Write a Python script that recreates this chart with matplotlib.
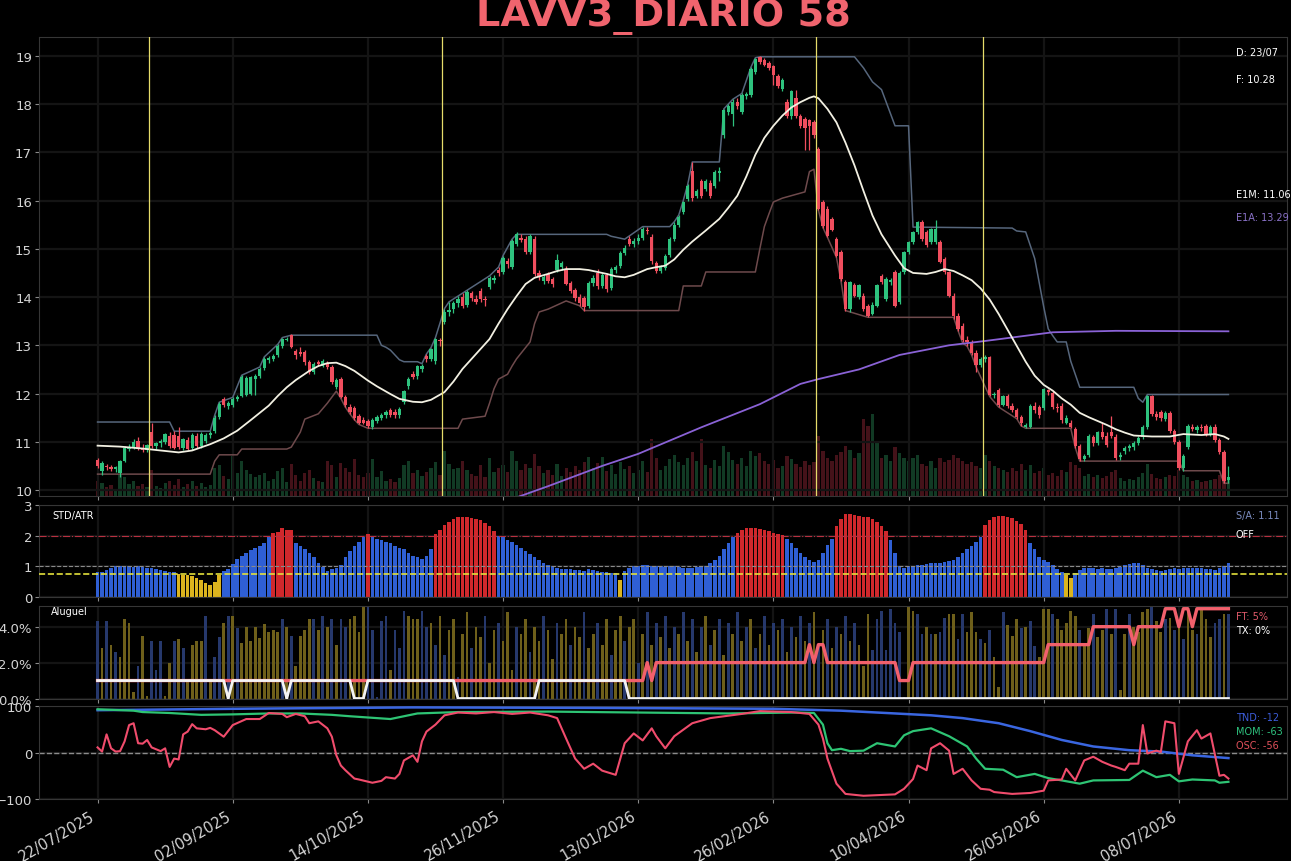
import numpy as np
import matplotlib.pyplot as plt

plt.rcParams['font.family'] = ['DejaVu Sans']

title = "LAVV3_DIARIO 58"
date_labels = ["22/07/2025", "02/09/2025", "14/10/2025", "26/11/2025", "13/01/2026",
               "26/02/2026", "10/04/2026", "26/05/2026", "08/07/2026"]
date_step = 30
last_day = "23/07"
event_days = [12, 77, 160, 197]

opens = [
    10.62, 10.40, 10.50, 10.47, 10.44, 10.36, 10.60, 10.86, 10.90, 11.02,
    10.88, 10.82, 11.20, 10.92, 10.97, 11.00, 11.12, 11.14, 11.12, 10.88,
    11.04, 10.88, 11.12, 10.92, 11.02, 11.14, 11.22, 11.52, 11.88, 11.74,
    11.76, 11.88, 11.95, 11.96, 12.00, 12.30, 12.36, 12.52, 12.70, 12.72,
    12.80, 12.98, 13.12, 13.21, 12.88, 12.86, 12.86, 12.65, 12.44, 12.66,
    12.58, 12.62, 12.55, 12.14, 12.30, 11.93, 11.73, 11.70, 11.53, 11.46,
    11.44, 11.30, 11.44, 11.50, 11.56, 11.66, 11.62, 11.55, 11.82, 12.15,
    12.40, 12.36, 12.50, 12.78, 12.72, 12.67, 13.10, 13.48, 13.70, 13.76,
    13.88, 14.00, 13.84, 14.08, 13.96, 14.12, 13.96, 14.20, 14.36, 14.56,
    14.52, 14.74, 14.62, 15.10, 15.22, 15.20, 14.94, 15.20, 14.50, 14.34,
    14.48, 14.38, 14.56, 14.62, 14.58, 14.30, 14.14, 14.00, 13.98, 13.82,
    14.30, 14.50, 14.22, 14.46, 14.18, 14.56, 14.64, 14.92, 15.20, 15.10,
    15.16, 15.22, 15.40, 15.24, 14.70, 14.55, 14.60, 14.88, 15.20, 15.50,
    15.76, 16.03, 16.62, 16.10, 16.40, 16.25, 16.36, 16.31, 16.58, 17.35,
    17.84, 17.80, 18.04, 17.83, 18.16, 18.18, 18.66, 18.98, 18.92, 18.86,
    18.78, 18.59, 18.32, 18.04, 17.76, 18.12, 17.76, 17.70, 17.66, 17.62,
    17.07, 15.97, 15.83, 15.62, 15.20, 14.93, 14.31, 13.75, 14.24, 14.00,
    14.03, 13.82, 13.64, 13.82, 14.44, 13.96, 14.31, 14.51, 13.90, 14.51,
    14.93, 15.14, 15.34, 15.55, 15.34, 15.14, 15.14, 15.14, 14.79, 14.51,
    14.03, 13.60, 13.41, 13.12, 13.06, 12.85, 12.60, 12.72, 12.75, 11.96,
    12.08, 11.77, 11.95, 11.75, 11.66, 11.52, 11.30, 11.30, 11.74, 11.72,
    11.70, 12.08, 12.02, 11.72, 11.75, 11.40, 11.38, 11.26, 10.92, 10.64,
    10.72, 11.10, 10.98, 11.20, 11.12, 11.20, 11.10, 10.68, 10.80, 10.88,
    10.90, 10.98, 11.10, 11.30, 11.94, 11.58, 11.62, 11.48, 11.60, 11.22,
    11.00, 10.46, 10.90, 11.30, 11.24, 11.30, 11.32, 11.16, 11.30, 11.04,
    10.78, 10.20]
highs = [
    10.66, 10.60, 10.55, 10.52, 10.50, 10.62, 10.92, 10.95, 11.05, 11.10,
    10.95, 10.96, 11.40, 11.00, 11.05, 11.18, 11.20, 11.22, 11.30, 11.08,
    11.10, 11.18, 11.18, 11.20, 11.18, 11.22, 11.55, 11.82, 11.92, 11.84,
    11.92, 11.98, 12.38, 12.36, 12.36, 12.40, 12.55, 12.76, 12.78, 12.82,
    13.02, 13.16, 13.18, 13.24, 12.92, 12.96, 12.90, 12.70, 12.66, 12.70,
    12.72, 12.68, 12.60, 12.32, 12.34, 11.98, 11.78, 11.74, 11.58, 11.52,
    11.48, 11.50, 11.56, 11.60, 11.66, 11.70, 11.68, 11.72, 12.08, 12.34,
    12.46, 12.60, 12.62, 12.82, 12.95, 13.16, 13.16, 13.76, 13.90, 13.92,
    14.02, 14.08, 14.14, 14.12, 14.04, 14.18, 14.02, 14.44, 14.46, 14.62,
    14.86, 14.80, 15.20, 15.34, 15.30, 15.26, 15.30, 15.26, 14.56, 14.46,
    14.52, 14.42, 14.90, 14.74, 14.64, 14.34, 14.18, 14.06, 14.02, 14.34,
    14.46, 14.58, 14.50, 14.50, 14.62, 14.66, 14.96, 15.08, 15.26, 15.22,
    15.30, 15.46, 15.46, 15.30, 14.74, 14.66, 14.90, 15.24, 15.56, 15.70,
    16.00, 16.34, 16.80, 16.24, 16.45, 16.44, 16.42, 16.64, 16.70, 17.90,
    18.00, 18.10, 18.12, 18.22, 18.26, 18.76, 18.96, 19.00, 18.96, 18.90,
    18.82, 18.62, 18.54, 18.10, 18.30, 18.30, 17.80, 17.74, 17.70, 17.66,
    17.12, 16.02, 15.88, 15.66, 15.24, 14.98, 14.36, 14.34, 14.30, 14.28,
    14.08, 13.86, 13.90, 14.28, 14.48, 14.42, 14.40, 14.56, 14.55, 14.96,
    15.16, 15.36, 15.58, 15.60, 15.38, 15.44, 15.60, 15.18, 14.82, 14.55,
    14.08, 13.66, 13.46, 13.20, 13.10, 12.90, 12.76, 12.80, 12.78, 12.04,
    12.12, 11.98, 12.00, 11.80, 11.70, 11.56, 11.40, 11.78, 11.82, 11.76,
    12.12, 12.10, 12.06, 11.80, 11.80, 11.55, 11.45, 11.30, 10.96, 10.74,
    11.16, 11.14, 11.22, 11.40, 11.20, 11.54, 11.16, 10.78, 10.92, 10.96,
    11.02, 11.12, 11.34, 11.98, 11.98, 11.64, 11.66, 11.64, 11.64, 11.26,
    11.04, 10.74, 11.36, 11.36, 11.34, 11.36, 11.36, 11.34, 11.36, 11.08,
    10.82, 10.50]
lows = [
    10.45, 10.32, 10.42, 10.40, 10.38, 10.28, 10.58, 10.80, 10.86, 10.82,
    10.78, 10.78, 10.88, 10.85, 10.90, 10.95, 10.88, 10.86, 10.85, 10.84,
    10.84, 10.84, 10.88, 10.88, 10.98, 11.08, 11.18, 11.48, 11.72, 11.68,
    11.72, 11.84, 11.93, 11.94, 11.96, 11.96, 12.32, 12.48, 12.64, 12.68,
    12.76, 12.94, 13.08, 12.95, 12.72, 12.78, 12.60, 12.40, 12.40, 12.58,
    12.55, 12.50, 12.20, 12.10, 11.90, 11.72, 11.58, 11.46, 11.36, 11.36,
    11.28, 11.26, 11.40, 11.46, 11.50, 11.52, 11.50, 11.50, 11.78, 12.10,
    12.30, 12.30, 12.44, 12.66, 12.68, 12.62, 12.98, 13.45, 13.60, 13.66,
    13.80, 13.78, 13.80, 13.92, 13.86, 13.90, 13.82, 14.16, 14.30, 14.44,
    14.48, 14.60, 14.58, 15.06, 15.14, 14.90, 14.90, 14.44, 14.36, 14.28,
    14.30, 14.20, 14.52, 14.56, 14.24, 14.08, 13.92, 13.82, 13.72, 13.78,
    14.22, 14.16, 14.18, 14.10, 14.14, 14.50, 14.60, 14.88, 15.06, 15.04,
    15.10, 15.18, 15.30, 14.68, 14.50, 14.50, 14.56, 14.84, 15.16, 15.46,
    15.72, 16.00, 16.00, 16.05, 16.05, 16.20, 16.06, 16.27, 16.40, 17.30,
    17.78, 17.55, 17.90, 17.80, 18.10, 18.15, 18.62, 18.84, 18.78, 18.70,
    18.40, 18.34, 18.28, 17.72, 17.70, 17.72, 17.50, 17.05, 17.05, 17.30,
    15.80, 15.44, 15.24, 15.36, 14.82, 14.34, 13.72, 13.70, 14.00, 13.96,
    13.72, 13.58, 13.62, 13.80, 14.28, 13.92, 14.26, 13.80, 13.86, 14.48,
    14.90, 15.10, 15.30, 15.16, 15.04, 15.10, 15.10, 14.70, 14.48, 14.00,
    13.55, 13.30, 13.06, 12.98, 12.80, 12.45, 12.56, 12.66, 11.94, 11.90,
    11.72, 11.74, 11.70, 11.62, 11.48, 11.33, 11.28, 11.28, 11.60, 11.50,
    11.66, 11.96, 11.68, 11.62, 11.40, 11.36, 11.28, 10.88, 10.60, 10.60,
    10.68, 10.92, 10.94, 11.05, 10.90, 11.08, 10.62, 10.62, 10.74, 10.80,
    10.84, 10.94, 11.06, 11.26, 11.54, 11.46, 11.44, 11.44, 11.18, 10.96,
    10.42, 10.40, 10.86, 11.22, 11.18, 11.22, 11.12, 11.12, 11.00, 10.74,
    10.14, 10.14]
closes = [
    10.50, 10.56, 10.47, 10.44, 10.48, 10.60, 10.88, 10.90, 11.00, 10.85,
    10.82, 10.93, 10.92, 10.97, 11.02, 11.16, 10.92, 10.88, 10.90, 11.05,
    10.86, 11.14, 10.92, 11.16, 11.14, 11.18, 11.50, 11.78, 11.76, 11.80,
    11.89, 11.92, 12.34, 12.32, 12.34, 12.36, 12.51, 12.72, 12.74, 12.78,
    12.99, 13.13, 13.14, 12.97, 12.80, 12.82, 12.65, 12.44, 12.62, 12.62,
    12.68, 12.55, 12.24, 12.28, 11.93, 11.76, 11.62, 11.50, 11.40, 11.40,
    11.33, 11.46, 11.52, 11.56, 11.62, 11.56, 11.55, 11.68, 12.05, 12.30,
    12.35, 12.57, 12.58, 12.72, 12.92, 13.13, 13.08, 13.70, 13.74, 13.88,
    13.96, 13.82, 14.10, 13.98, 13.90, 13.96, 13.94, 14.40, 14.40, 14.50,
    14.80, 14.68, 15.16, 15.30, 15.18, 14.94, 15.26, 14.48, 14.42, 14.42,
    14.34, 14.28, 14.76, 14.70, 14.28, 14.12, 13.98, 13.88, 13.80, 14.30,
    14.40, 14.22, 14.46, 14.16, 14.58, 14.62, 14.92, 15.02, 15.10, 15.16,
    15.22, 15.42, 15.36, 14.74, 14.55, 14.62, 14.86, 15.20, 15.50, 15.66,
    15.97, 16.31, 16.05, 16.20, 16.10, 16.40, 16.10, 16.59, 16.62, 17.87,
    17.97, 18.05, 17.95, 18.18, 18.20, 18.73, 18.94, 18.87, 18.82, 18.74,
    18.60, 18.38, 18.50, 17.76, 18.28, 17.76, 17.55, 17.50, 17.55, 17.35,
    15.83, 15.48, 15.27, 15.40, 14.86, 14.38, 13.75, 14.31, 14.03, 14.24,
    13.75, 13.61, 13.84, 14.24, 14.31, 14.38, 14.36, 13.82, 14.50, 14.93,
    15.14, 15.34, 15.55, 15.20, 15.07, 15.41, 15.41, 14.72, 14.51, 14.03,
    13.60, 13.34, 13.10, 13.06, 12.85, 12.60, 12.72, 12.75, 11.96, 12.00,
    11.77, 11.95, 11.75, 11.66, 11.52, 11.38, 11.35, 11.74, 11.66, 11.56,
    12.09, 12.04, 11.72, 11.70, 11.45, 11.50, 11.30, 10.92, 10.64, 10.70,
    11.13, 10.98, 11.20, 11.10, 10.94, 11.12, 10.66, 10.72, 10.88, 10.92,
    10.98, 11.08, 11.30, 11.94, 11.58, 11.52, 11.50, 11.60, 11.22, 11.00,
    10.46, 10.70, 11.32, 11.26, 11.30, 11.28, 11.16, 11.30, 11.04, 10.78,
    10.18, 10.28]
volumes = [
    300, 260, 180, 220, 150, 420, 380, 250, 300, 200,
    240, 180, 520, 200, 160, 260, 300, 220, 340, 180,
    240, 300, 200, 260, 180, 220, 560, 620, 400, 340,
    800, 460, 700, 520, 440, 380, 420, 460, 300, 340,
    500, 560, 280, 640, 420, 300, 460, 520, 360, 300,
    280, 700, 620, 380, 660, 560, 480, 740, 420, 380,
    460, 740, 380, 500, 300, 340, 280, 360, 620, 700,
    460, 520, 400, 480, 560, 680, 420, 900, 640, 540,
    560, 700, 520, 440, 400, 620, 380, 760, 480, 560,
    620, 480, 900, 700, 520, 640, 560, 840, 600, 460,
    520, 420, 640, 400, 560, 480, 600, 520, 680, 780,
    560, 660, 780, 500, 620, 440, 680, 540, 600, 460,
    520, 700, 480, 1140, 760, 520, 600, 740, 820, 680,
    620, 760, 880, 700, 1140, 620, 560, 720, 600, 1000,
    880, 720, 640, 760, 600, 900, 800, 860, 700, 640,
    720, 560, 600, 800, 740, 640, 580, 700, 620, 680,
    1200, 900, 760, 700, 820, 880, 1000, 920, 760, 860,
    1540, 1400, 1640, 1100, 760, 820, 700, 980, 860, 760,
    700, 760, 820, 640, 600, 700, 560, 760, 680, 720,
    820, 760, 700, 640, 680, 600, 560, 820, 700, 600,
    560, 520, 480, 560, 500, 640, 520, 620, 460, 500,
    560, 420, 460, 400, 520, 480, 680, 620, 560, 400,
    440, 380, 420, 360, 400, 480, 520, 360, 300, 340,
    320, 380, 460, 640, 440, 360, 340, 380, 420, 400,
    520, 420, 380, 300, 320, 280, 300, 320, 340, 420,
    560, 380]

# medias (E1M = curta, E1A = longa)
e1m_idx = [0, 5, 10, 14, 18, 21, 25, 28, 31, 34, 38, 40, 42, 44, 47, 49, 51, 53, 55, 57,
           60, 62, 65, 67, 70, 72, 74, 77, 79, 81, 84, 87, 89, 91, 93, 95, 97, 100, 102,
           104, 107, 109, 111, 113, 115, 117, 119, 122, 124, 126, 128, 130, 132, 135, 138,
           140, 142, 144, 146, 148, 150, 152, 154, 156, 158, 159, 160, 162, 164, 166, 168,
           170, 172, 174, 177, 179, 181, 184, 186, 188, 190, 192, 194, 196, 198, 200, 202,
           204, 206, 208, 210, 212, 214, 216, 218, 220, 222, 224, 226, 228, 230, 234, 238,
           241, 245, 248, 250, 251]
e1m_val = [10.92, 10.90, 10.86, 10.82, 10.78, 10.82, 10.95, 11.07, 11.23, 11.45, 11.75,
           11.95, 12.13, 12.28, 12.47, 12.57, 12.63, 12.64, 12.57, 12.47, 12.27, 12.15,
           11.99, 11.89, 11.83, 11.82, 11.87, 12.03, 12.25, 12.51, 12.82, 13.13, 13.45,
           13.75, 14.02, 14.27, 14.40, 14.48, 14.54, 14.58, 14.58, 14.56, 14.52, 14.48,
           14.43, 14.41, 14.46, 14.58, 14.62, 14.65, 14.78, 14.98, 15.15, 15.38, 15.62,
           15.85, 16.10, 16.50, 16.95, 17.30, 17.55, 17.76, 17.93, 18.04, 18.13, 18.16,
           18.12, 17.90, 17.62, 17.20, 16.73, 16.20, 15.69, 15.30, 14.86, 14.60, 14.50,
           14.48, 14.52, 14.58, 14.54, 14.45, 14.35, 14.18, 13.95, 13.65, 13.32, 12.99,
           12.66, 12.37, 12.18, 12.06, 11.90, 11.77, 11.60, 11.51, 11.43, 11.35, 11.26,
           11.19, 11.13, 11.11, 11.11, 11.16, 11.14, 11.16, 11.11, 11.06]
e1a_idx = [80, 94, 100, 112, 120, 134, 147, 156, 160, 169, 178, 189, 197, 212, 226, 251]
e1a_val = [9.45, 9.88, 10.08, 10.50, 10.75, 11.30, 11.78, 12.20, 12.30, 12.50, 12.80,
           13.00, 13.09, 13.27, 13.30, 13.29]

# canal de maximas / minimas
upper_idx = [0, 16, 17, 25, 26, 27, 30, 32, 36, 37, 40, 41, 43, 62, 63, 64, 65, 66, 67, 68,
             71, 72, 73, 74, 75, 77, 78, 80, 82, 87, 89, 90, 92, 93, 113, 114, 117, 121, 127,
             128, 129, 130, 131, 132, 138, 139, 140, 141, 143, 145, 146, 147, 168, 170, 172,
             174, 176, 177, 180, 181, 203, 204, 206, 208, 209, 210, 211, 212, 213, 215, 216,
             217, 218, 230, 231, 232, 233, 251]
upper_val = [11.41, 11.41, 11.22, 11.22, 11.55, 11.82, 11.92, 12.38, 12.55, 12.76, 13.02,
             13.16, 13.21, 13.21, 13.00, 12.96, 12.90, 12.80, 12.70, 12.66, 12.66, 12.62,
             12.82, 12.95, 13.16, 13.76, 13.90, 14.02, 14.14, 14.44, 14.62, 14.86, 15.20,
             15.30, 15.30, 15.26, 15.20, 15.46, 15.46, 15.56, 15.70, 16.00, 16.34, 16.80,
             16.80, 17.90, 18.00, 18.10, 18.22, 18.76, 18.96, 18.98, 18.98, 18.75, 18.46,
             18.30, 17.80, 17.55, 17.55, 15.45, 15.43, 15.37, 15.35, 14.80, 14.30, 13.80,
             13.34, 13.20, 13.07, 13.07, 12.67, 12.40, 12.13, 12.13, 11.90, 11.82, 11.98,
             11.98]
lower_idx = [0, 25, 26, 27, 31, 32, 42, 43, 45, 46, 49, 51, 53, 54, 55, 56, 57, 58, 60, 80,
             81, 86, 87, 88, 89, 91, 92, 93, 96, 97, 98, 100, 104, 107, 108, 129, 130, 134,
             135, 146, 147, 148, 149, 150, 152, 157, 158, 159, 160, 161, 162, 164, 165, 166,
             171, 190, 191, 192, 193, 194, 195, 198, 200, 204, 205, 206, 216, 217, 218, 240,
             241, 249, 250, 251]
lower_val = [10.33, 10.33, 10.60, 10.73, 10.73, 10.85, 10.85, 10.89, 11.20, 11.47, 11.58,
             11.80, 12.05, 11.90, 11.72, 11.58, 11.46, 11.36, 11.28, 11.28, 11.47, 11.53,
             11.80, 12.10, 12.30, 12.40, 12.57, 12.72, 13.07, 13.45, 13.69, 13.75, 13.92,
             13.82, 13.72, 13.72, 14.23, 14.23, 14.52, 14.52, 15.00, 15.46, 15.72, 15.97,
             16.05, 16.18, 16.60, 16.65, 15.80, 15.44, 15.24, 14.82, 14.34, 13.72, 13.58,
             13.58, 13.30, 13.05, 12.98, 12.80, 12.55, 11.94, 11.72, 11.48, 11.33, 11.28,
             11.28, 10.88, 10.60, 10.60, 10.40, 10.40, 10.14, 10.14]

std_atr = [
    0.80, 0.82, 0.87, 0.95, 1.00, 1.02, 1.00, 1.00, 0.98, 1.00,
    0.97, 0.95, 0.93, 0.90, 0.88, 0.85, 0.82, 0.80, 0.74, 0.72,
    0.72, 0.68, 0.62, 0.55, 0.45, 0.40, 0.50, 0.73, 0.86, 0.92,
    1.08, 1.25, 1.35, 1.45, 1.52, 1.60, 1.66, 1.76, 1.95, 2.08,
    2.12, 2.24, 2.20, 2.18, 1.75, 1.65, 1.55, 1.45, 1.30, 1.10,
    0.98, 0.85, 0.90, 0.95, 1.05, 1.30, 1.50, 1.65, 1.80, 1.97,
    2.05, 1.95, 1.90, 1.85, 1.80, 1.75, 1.65, 1.60, 1.55, 1.45,
    1.35, 1.30, 1.25, 1.35, 1.55, 2.05, 2.20, 2.35, 2.45, 2.55,
    2.60, 2.62, 2.60, 2.58, 2.55, 2.50, 2.40, 2.30, 2.15, 2.00,
    1.95, 1.85, 1.80, 1.70, 1.60, 1.50, 1.40, 1.30, 1.20, 1.10,
    1.05, 1.00, 0.95, 0.92, 0.90, 0.90, 0.88, 0.88, 0.85, 0.90,
    0.88, 0.85, 0.82, 0.80, 0.78, 0.78, 0.55, 0.85, 0.95, 1.00,
    1.02, 1.05, 1.05, 1.02, 1.00, 1.00, 0.98, 1.00, 1.00, 0.98,
    0.95, 0.95, 0.95, 0.98, 1.00, 1.00, 1.10, 1.20, 1.35, 1.55,
    1.75, 1.95, 2.10, 2.20, 2.25, 2.25, 2.25, 2.22, 2.20, 2.15,
    2.10, 2.05, 2.02, 1.90, 1.75, 1.60, 1.45, 1.30, 1.20, 1.15,
    1.20, 1.45, 1.70, 1.90, 2.30, 2.55, 2.72, 2.70, 2.68, 2.65,
    2.62, 2.60, 2.55, 2.45, 2.30, 2.15, 1.85, 1.42, 1.00, 0.95,
    1.00, 1.02, 1.05, 1.05, 1.08, 1.10, 1.10, 1.12, 1.15, 1.18,
    1.22, 1.30, 1.42, 1.55, 1.65, 1.80, 1.95, 2.35, 2.50, 2.60,
    2.65, 2.65, 2.62, 2.58, 2.48, 2.38, 2.20, 1.75, 1.55, 1.30,
    1.20, 1.15, 1.05, 0.90, 0.83, 0.71, 0.63, 0.77, 0.88, 0.93,
    0.95, 0.93, 0.91, 0.93, 0.90, 0.91, 0.93, 0.98, 1.04, 1.09,
    1.11, 1.11, 1.04, 0.93, 0.90, 0.88, 0.84, 0.88, 0.90, 0.93,
    0.91, 0.93, 0.93, 0.95, 0.93, 0.93, 0.91, 0.90, 0.88, 0.93,
    1.00, 1.11]
std_high, std_mid, std_low = 2.0, 1.0, 0.75

aluguel = [
    4.3, 2.8, 4.3, 3.0, 2.6, 2.3, 4.4, 4.2, 0.35, 1.8,
    3.5, 0.15, 3.2, 1.6, 3.2, 0.15, 2.0, 3.2, 3.3, 2.8,
    0.9, 3.0, 3.2, 3.2, 4.6, 0.9, 2.3, 3.4, 4.2, 4.6,
    4.6, 3.9, 3.1, 4.0, 3.2, 4.0, 3.35, 4.15, 3.7, 3.8,
    3.7, 4.4, 4.0, 3.5, 1.8, 3.5, 3.8, 4.4, 4.4, 3.8,
    4.6, 4.0, 4.4, 3.0, 4.4, 4.0, 4.4, 4.6, 3.7, 5.1,
    5.1, 3.8, 0.1, 4.3, 4.6, 1.6, 3.8, 2.8, 4.9, 4.6,
    4.4, 4.4, 4.9, 4.0, 4.2, 3.0, 4.6, 2.4, 3.8, 4.4,
    1.2, 3.6, 4.8, 2.8, 4.0, 3.4, 4.6, 2.0, 3.8, 4.2,
    3.2, 4.8, 1.6, 4.0, 3.6, 4.4, 2.6, 4.0, 3.2, 4.6,
    3.8, 2.2, 4.2, 3.6, 4.4, 3.0, 4.0, 3.4, 4.8, 2.8,
    3.6, 4.2, 3.0, 4.4, 2.4, 3.8, 4.6, 3.2, 4.0, 4.4,
    2.0, 3.6, 4.8, 3.0, 4.2, 3.4, 4.6, 2.8, 4.0, 3.6,
    4.8, 3.2, 4.4, 2.6, 4.0, 4.6, 3.0, 3.8, 4.4, 2.4,
    4.2, 3.6, 4.8, 3.2, 4.0, 4.4, 2.8, 3.6, 4.6, 3.0,
    4.2, 3.8, 4.4, 2.6, 4.0, 3.4, 4.6, 3.2, 4.2, 4.8,
    3.0, 3.8, 4.4, 2.8, 4.0, 3.6, 4.6, 3.2, 4.2, 3.0,
    1.8, 4.7, 2.7, 4.4, 4.9, 2.7, 5.0, 4.2, 3.7, 0.1,
    5.1, 4.9, 4.7, 3.6, 4.0, 3.6, 3.6, 3.7, 4.5, 4.7,
    4.7, 3.3, 4.7, 3.7, 4.8, 3.7, 3.3, 3.1, 3.8, 2.3,
    0.65, 4.8, 4.1, 3.5, 4.4, 3.9, 4.0, 4.3, 2.9, 2.3,
    5.0, 5.0, 4.7, 4.4, 3.8, 4.2, 4.9, 4.6, 3.8, 2.9,
    3.9, 4.7, 3.4, 3.8, 5.0, 3.6, 5.0, 0.5, 3.6, 4.7,
    4.0, 3.7, 4.8, 5.0, 5.1, 4.3, 3.7, 4.4, 4.5, 3.8,
    4.2, 3.3, 4.8, 3.8, 3.6, 5.0, 4.4, 3.4, 4.2, 4.4,
    4.7, 4.7]
aluguel_side = ("bybybyyyyb" "yybbbyybyb" "yyyybybbyb" "ybyyyyyyyy" "ybybyyyyby"
                "bybybbyyyy" "bbbbbybbby" "yybb"
                "ybybyybyyb" "yybyybyyyb" "yybyybyyby" "ybyybyybyy" "byybyybyby"
                "bybybybyby" "bybybybyby" "bybybybyby" "bybybybyby" "bybyby"
                "yybbbbbbbb" "yybbybybby" "ybbyyybyby" "ybyyybybby" "yybyyyyyby"
                "ybyybybyyb" "yyyybyybyb" "ybyybyyybb" "yb")
ft_rate = ([1.0] * 122 + [2.0, 1.0, 2.0] + [2.0] * 33 + [3.0, 2.0, 3.0, 3.0] + [2.0] * 16
           + [1.0] * 3 + [2.0] * 30 + [3.0] * 10 + [4.0] * 9 + [3.0] + [4.0] * 6
           + [5.0] * 3 + [4.0] + [5.0] * 2 + [4.0] + [5.0] * 8)
tx_rate = ([1.0] * 29 + [0.0] + [1.0] * 12 + [0.0] + [1.0] * 14 + [0.0] * 3 + [1.0] * 20
           + [0.0] * 18 + [1.0] * 20 + [0.0] * 134)

tnd_idx = [0, 30, 70, 110, 150, 165, 185, 192, 200, 207, 214, 221, 229, 236, 243, 251]
tnd_val = [91, 94, 97, 96, 94, 90, 80, 74, 63, 46, 27, 13, 5, 2, -6, -12]
mom_idx = [0, 8, 10, 16, 23, 30, 38, 45, 52, 56, 65, 71, 80, 100, 120, 140, 155, 159, 161,
           162, 163, 165, 167, 170, 173, 177, 179, 181, 185, 189, 193, 195, 197, 201, 204,
           208, 211, 214, 218, 221, 229, 232, 235, 238, 240, 243, 248, 249, 251]
mom_val = [93, 90, 87, 85, 81, 82, 84, 84, 81, 78, 72, 84, 87, 88, 86, 84, 86, 85, 60, 20,
           5, 8, 3, 4, 20, 13, 37, 46, 52, 35, 13, -13, -35, -37, -53, -46, -55, -60, -67,
           -60, -59, -39, -53, -48, -62, -58, -60, -65, -63]
osc_idx = [0, 1, 2, 3, 4, 5, 6, 7, 8, 9, 10, 11, 12, 14, 15, 16, 17, 18, 19, 20, 21, 22, 24,
           25, 26, 28, 30, 33, 36, 38, 41, 42, 44, 46, 47, 49, 51, 52, 53, 54, 55, 57, 58, 61,
           63, 64, 66, 67, 68, 70, 71, 72, 73, 75, 77, 80, 84, 88, 92, 96, 100, 102, 104,
           106, 108, 110, 112, 115, 117, 119, 121, 123, 124, 126, 128, 132, 136, 143, 147,
           154, 158, 160, 161, 162, 164, 166, 170, 177, 179, 181, 182, 184, 185, 187, 189,
           190, 192, 194, 196, 198, 199, 203, 207, 210, 211, 214, 215, 217, 219, 221, 223,
           225, 226, 228, 229, 231, 232, 233, 235, 236, 237, 239, 240, 242, 244, 245, 247,
           249, 250, 251]
osc_val = [11, 2, 39, 9, 2, 3, 24, 59, 63, 20, 19, 27, 11, 3, 9, -31, -13, -15, 39, 45, 61,
           52, 50, 53, 48, 34, 59, 72, 72, 85, 83, 76, 83, 78, 63, 67, 52, 34, -6, -28, -38,
           -56, -58, -65, -61, -53, -56, -46, -17, -6, -20, 24, 45, 60, 80, 86, 84, 87, 83,
           86, 80, 74, 30, -13, -35, -24, -39, -48, 20, 41, 26, 52, 35, 9, 35, 63, 74, 83,
           89, 87, 83, 60, 30, -13, -67, -89, -93, -90, -78, -57, -28, -38, 9, 20, 4, -46,
           -35, -60, -78, -80, -85, -89, -87, -82, -60, -58, -35, -60, -17, -9, -20, -28,
           -31, -38, -24, -24, 59, -2, 4, 1, 67, 63, -46, 24, 48, 30, 41, -50, -48, -56]

# ---------------------------------------------------------------------------
BG = '#000000'
UP, DN = '#2ec27e', '#f04e5e'
TXT = '#d4d4d4'
GRID = '#141414'

fig = plt.figure(figsize=(12.91, 8.62), dpi=100, facecolor=BG)
L, W = 0.0302, 0.9667
ax_p = fig.add_axes([L, 0.4234, W, 0.5325])
ax_s = fig.add_axes([L, 0.3063, W, 0.1067], sharex=ax_p)
ax_a = fig.add_axes([L, 0.1885, W, 0.1073], sharex=ax_p)
ax_o = fig.add_axes([L, 0.0719, W, 0.1079], sharex=ax_p)
axes = [ax_p, ax_s, ax_a, ax_o]

n = len(closes)
x = np.arange(n)
o, h, l, c = (np.array(v[:n]) for v in (opens, highs, lows, closes))
up = c >= o
col = np.where(up, UP, DN)

# volume (eixo gemeo, atras dos candles)
ax_v = ax_p.twinx()
vol = np.array(volumes[:n])
ax_v.bar(x[:len(vol)], vol, width=0.72, color=np.where(up[:len(vol)], '#113a24', '#441219'))
ax_v.set_ylim(0, vol.max() * 5.6)
ax_v.axis('off')
ax_p.set_zorder(ax_v.get_zorder() + 1)
ax_p.patch.set_visible(False)

for ax in axes:
    ax.set_facecolor(BG)
    for s in ax.spines.values():
        s.set_color('#363636')
    ax.tick_params(colors='#8a8a8a', labelcolor=TXT, labelsize=9.5, length=3)
    ax.tick_params(axis='y', pad=2)
    ax.grid(True, color=GRID, lw=1.6)
    ax.set_axisbelow(True)

# painel de precos
ax_p.plot(upper_idx, upper_val, color='#56667c', lw=1.1, zorder=2)
ax_p.plot(lower_idx, lower_val, color='#6e4a4c', lw=1.1, zorder=2)
ax_p.vlines(x, l, h, color=col, lw=0.9, zorder=3)
ax_p.bar(x, np.maximum(np.abs(c - o), 0.02), bottom=np.minimum(o, c), width=0.74,
         color=col, zorder=4)
ax_p.plot(e1a_idx, e1a_val, color='#8a62d6', lw=1.3, zorder=5)
ax_p.plot(e1m_idx, e1m_val, color='#f2f0e2', lw=1.3, zorder=5, solid_joinstyle='round')
for d in event_days:
    ax_p.axvline(d - 0.5, color='#e6dc6a', lw=0.9, zorder=6)
ax_p.set_ylim(9.876, 19.39)
ax_p.set_yticks(range(10, 20))

FS = 7
tp = ax_p.transAxes
ax_p.text(0.959, 0.967, f"D: {last_day}", transform=tp, color='white', fontsize=FS, va='center')
ax_p.text(0.959, 0.9085, f"F: {closes[-1]:.2f}", transform=tp, color='white', fontsize=FS,
          va='center')
ax_p.text(0.959, 0.658, f"E1M: {e1m_val[-1]:.2f}", transform=tp, color='white', fontsize=FS,
          va='center')
ax_p.text(0.959, 0.608, f"E1A: {e1a_val[-1]:.2f}", transform=tp, color='#8a72c8', fontsize=FS,
          va='center')

# STD/ATR
sv = np.array(std_atr[:n])
sx = np.arange(len(sv))
scol = np.where(sv > std_high, '#d0282c', np.where(sv < std_low, '#dcb41e', '#2f5fd4'))
ax_s.bar(sx, sv, width=0.8, color=scol, zorder=2)
ax_s.axhline(std_high, color='#b83040', lw=0.8, ls='-.', zorder=3)
ax_s.axhline(std_mid, color='#8a8a8a', lw=0.8, ls='--', zorder=3)
ax_s.axhline(std_low, color='#e2e03c', lw=1.2, ls='--', zorder=3)
ax_s.set_ylim(0, 3)
ax_s.set_yticks([0, 1, 2, 3])
ts = ax_s.transAxes
ax_s.text(0.0104, 0.89, "STD/ATR", transform=ts, color='white', fontsize=FS, va='center')
ax_s.text(0.959, 0.89, f"S/A: {std_atr[-1]:.2f}", transform=ts, color='#7b8cc0', fontsize=FS,
          va='center')
ax_s.text(0.959, 0.685, "OFF", transform=ts, color='white', fontsize=FS, va='center')

# Aluguel
av = np.array(aluguel[:n])
acol = ['#6e5f1a' if s == 'y' else '#26386c' for s in aluguel_side[:len(av)]]
ax_a.bar(np.arange(len(acol)), av[:len(acol)], width=0.6, color=acol, zorder=2)
ax_a.plot(np.arange(len(ft_rate)), ft_rate, color='#f2606c', lw=2.4, zorder=3)
ax_a.plot(np.arange(len(tx_rate)), tx_rate, color='#f4f4f4', lw=2.0, zorder=4)
ax_a.set_ylim(0, 5.15)
ax_a.set_yticks([0, 2, 4])
ax_a.set_yticklabels(["0.0%", "2.0%", "4.0%"])
ta = ax_a.transAxes
ax_a.text(0.0096, 0.946, "Aluguel", transform=ta, color='white', fontsize=FS, va='center')
ax_a.text(0.959, 0.892, f"FT: {ft_rate[-1]:.0f}%", transform=ta, color='#e05a6a', fontsize=FS,
          va='center')
ax_a.text(0.959, 0.74, f"TX: {tx_rate[-1]:.0f}%", transform=ta, color='white', fontsize=FS,
          va='center')

# osciladores
ax_o.axhline(0, color='#8c8c8c', lw=1.0, ls='--', zorder=1)
ax_o.plot(tnd_idx, tnd_val, color='#3a66e0', lw=1.8, zorder=3)
ax_o.plot(mom_idx, mom_val, color='#2ec474', lw=1.6, zorder=3)
ax_o.plot(osc_idx, osc_val, color='#f04c6c', lw=1.5, zorder=4)
ax_o.set_ylim(-100, 100)
ax_o.set_yticks([-100, 0, 100])
to = ax_o.transAxes
ax_o.text(0.959, 0.882, f"TND: {tnd_val[-1]}", transform=to, color='#3c5cd8', fontsize=FS,
          va='center')
ax_o.text(0.959, 0.731, f"MOM: {mom_val[-1]}", transform=to, color='#2ec27e', fontsize=FS,
          va='center')
ax_o.text(0.959, 0.58, f"OSC: {osc_val[-1]}", transform=to, color='#e0505a', fontsize=FS,
          va='center')

# eixo x compartilhado
ax_o.set_xlim(-13, 264)
ticks = [i * date_step for i in range(len(date_labels))]
ax_o.set_xticks(ticks)
ax_o.set_xticklabels(date_labels, rotation=30, ha='right', fontsize=10.5, color=TXT)
for ax in axes[:-1]:
    plt.setp(ax.get_xticklabels(), visible=False)

fig.text(0.5136, 0.981, title, color='#f0646e', fontsize=27.5, fontweight='bold',
         ha='center', va='center')

fig.savefig('out.png', dpi=100, facecolor=BG)
